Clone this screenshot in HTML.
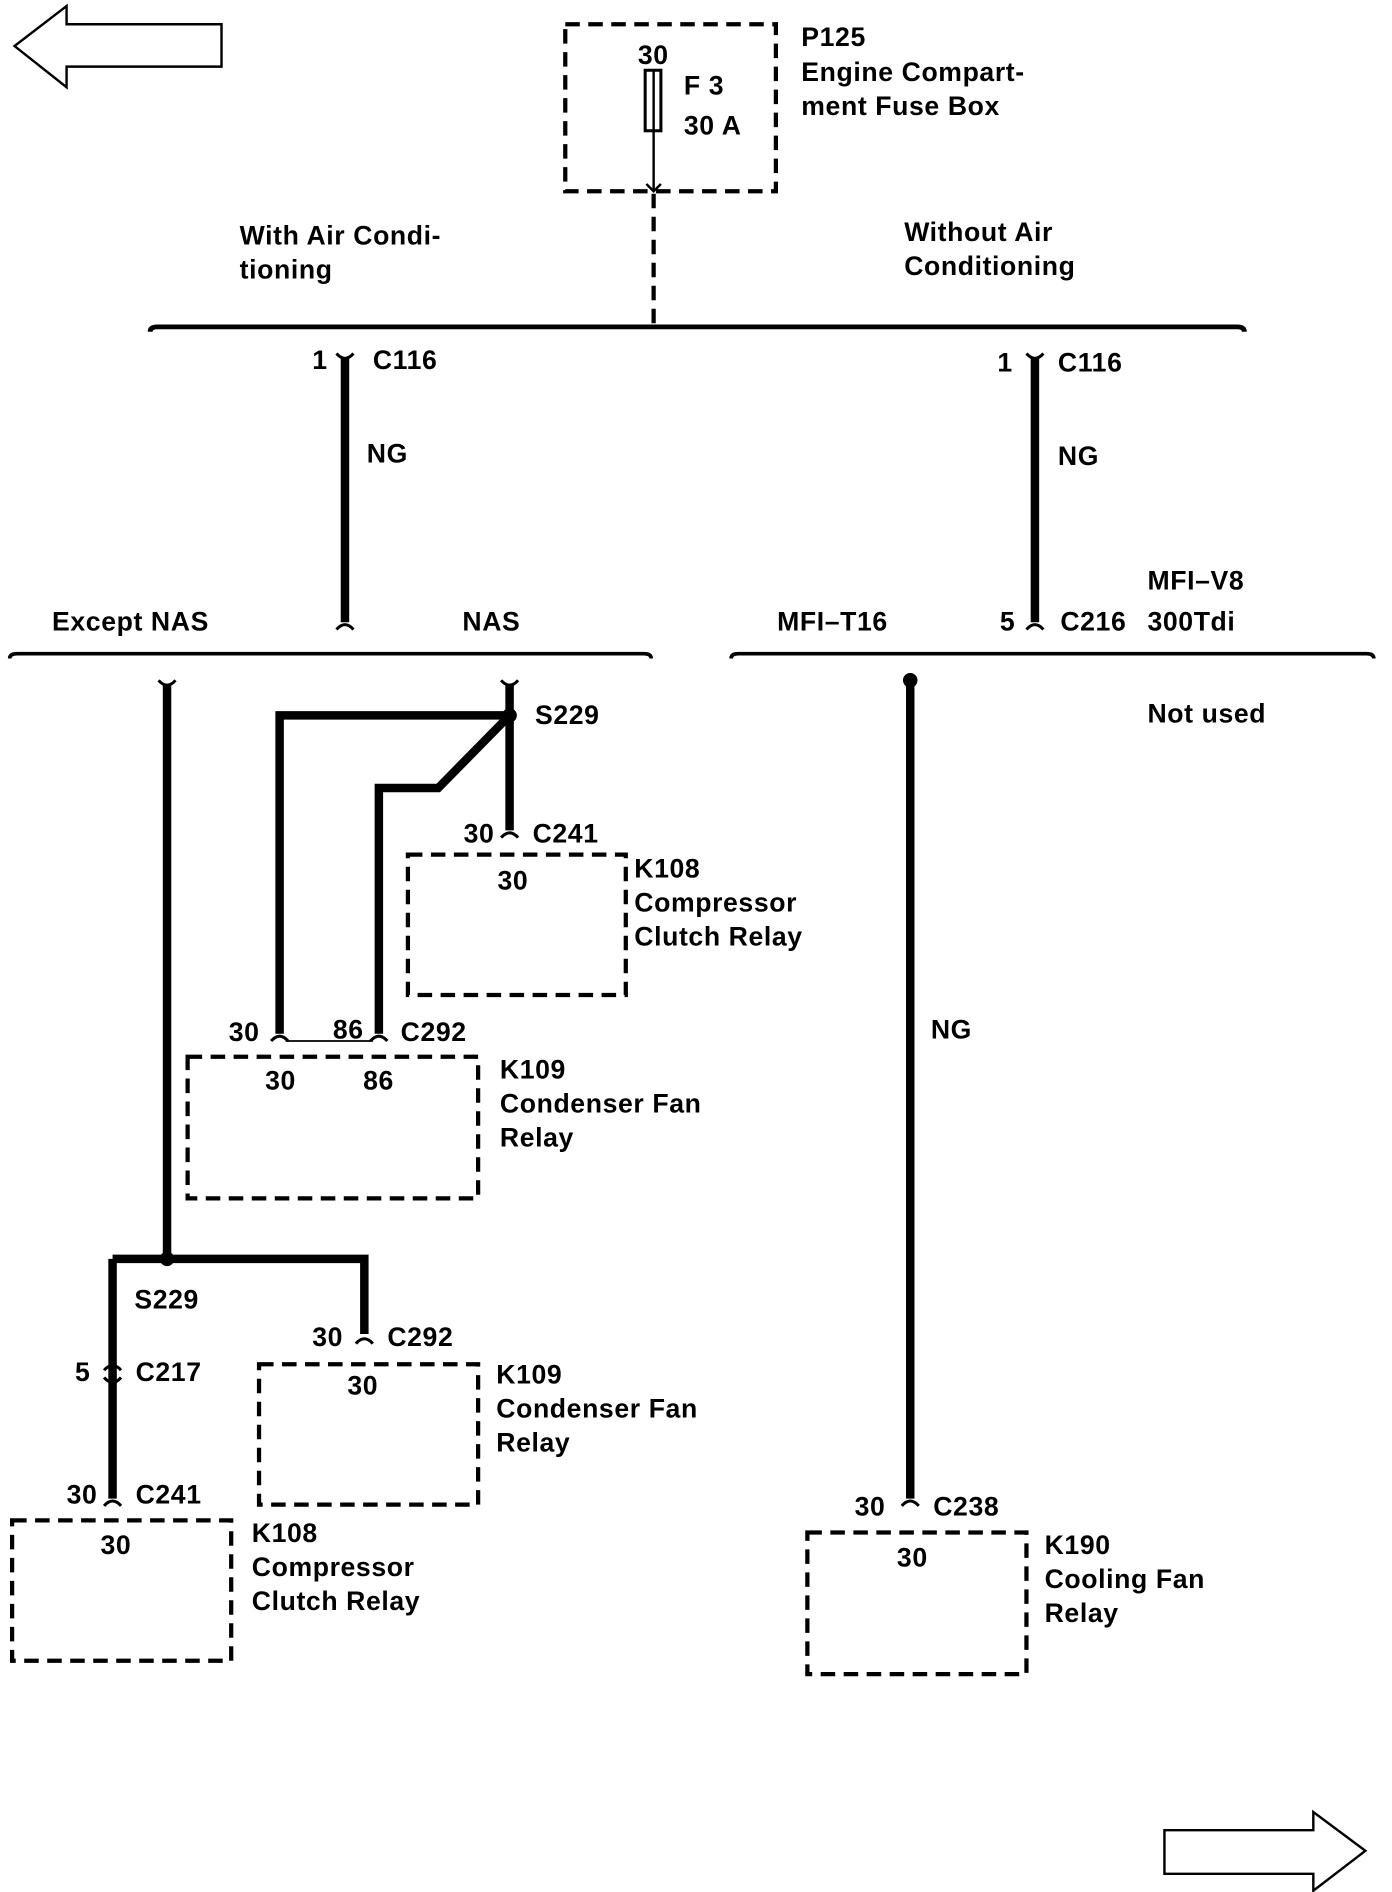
<!DOCTYPE html>
<html><head><meta charset="utf-8"><style>
html,body{margin:0;padding:0;background:#fff}
svg{display:block}
text{font-family:"Liberation Sans",sans-serif;font-weight:bold;font-size:22px;letter-spacing:0.5px;fill:#000}
</style></head><body>
<svg width="1392" height="1892" viewBox="0 0 1150 1563" xmlns="http://www.w3.org/2000/svg">
<g fill="none" stroke="#000">
<path d="M183,20 L55,20 L55,5 L12,38 L55,72 L55,55 L183,55 Z" stroke-width="2"/>
<path d="M962,1512 L1085,1512 L1085,1497 L1128,1529 L1085,1562 L1085,1548 L962,1548 Z" stroke-width="2"/>
<g stroke-width="3.5" stroke-dasharray="12,7">
<rect x="467" y="20" width="174" height="138"/>
<rect x="337" y="706" width="180" height="116"/>
<rect x="155" y="873" width="240" height="117"/>
<rect x="214" y="1127" width="181" height="116"/>
<rect x="10" y="1256" width="181" height="116"/>
<rect x="667" y="1266" width="181" height="117"/>
<path d="M540,160 L540,268"/>
</g>
<rect x="533" y="58" width="13" height="50" stroke-width="2.5"/>
<path d="M540,58 V158" stroke-width="2"/>
<path d="M534,152 L540,158 L546,152" stroke-width="2"/>
<path d="M124,274 Q124,270 130,270 L1022,270 Q1028,270 1028,274" stroke-width="4"/>
<path d="M8,544 Q8,540 14,540 L532,540 Q538,540 538,544" stroke-width="3"/>
<path d="M604,544 Q604,540 610,540 L1129,540 Q1135,540 1135,544" stroke-width="3"/>
<g stroke-width="7">
<path d="M285,296 V514"/>
<path d="M855,296 V514"/>
<path d="M138,566 V1040"/>
<path d="M421,566 V686"/>
<path d="M421,591 H231 V854"/>
<path d="M421,591 L362,651 H313 V854"/>
<path d="M93,1040 H301 V1102"/>
<path d="M93,1040 V1238"/>
<path d="M752,562 V1238"/>
</g>
<path d="M236,860 H308" stroke-width="1.5"/>
<g stroke-width="2.5">
<path d="M278,292 Q285,300 292,292"/>
<path d="M848,292 Q855,300 862,292"/>
<path d="M278,520 Q285,512 292,520"/>
<path d="M848,520 Q855,512 862,520"/>
<path d="M131,562 Q138,570 145,562"/>
<path d="M414,562 Q421,570 428,562"/>
<path d="M414,692 Q421,684 428,692"/>
<path d="M224,860 Q231,852 238,860"/>
<path d="M306,860 Q313,852 320,860"/>
<path d="M294,1110 Q301,1102 308,1110"/>
<path d="M86,1132 Q93,1124 100,1132"/>
<path d="M86,1138 Q93,1146 100,1138"/>
<path d="M86,1244 Q93,1236 100,1244"/>
<path d="M745,1244 Q752,1236 759,1244"/>
</g>
</g>
<g fill="#000">
<circle cx="421" cy="591" r="6"/>
<circle cx="138" cy="1040" r="6"/>
<circle cx="752" cy="562" r="6"/>
</g>
<text x="527" y="53">30</text>
<text x="565" y="78">F 3</text>
<text x="565" y="111">30 A</text>
<text x="662" y="38">P125</text>
<text x="662" y="67">Engine Compart-</text>
<text x="662" y="95">ment Fuse Box</text>
<text x="198" y="202">With Air Condi-</text>
<text x="198" y="230">tioning</text>
<text x="747" y="199">Without Air</text>
<text x="747" y="227">Conditioning</text>
<text x="258" y="305">1</text>
<text x="308" y="305">C116</text>
<text x="303" y="382">NG</text>
<text x="824" y="307">1</text>
<text x="874" y="307">C116</text>
<text x="874" y="384">NG</text>
<text x="43" y="521">Except NAS</text>
<text x="382" y="521">NAS</text>
<text x="642" y="521">MFI–T16</text>
<text x="826" y="521">5</text>
<text x="876" y="521">C216</text>
<text x="948" y="487">MFI–V8</text>
<text x="948" y="521">300Tdi</text>
<text x="948" y="597">Not used</text>
<text x="442" y="598">S229</text>
<text x="383" y="696">30</text>
<text x="440" y="696">C241</text>
<text x="411" y="735">30</text>
<text x="524" y="725">K108</text>
<text x="524" y="753">Compressor</text>
<text x="524" y="781">Clutch Relay</text>
<text x="189" y="860">30</text>
<text x="275" y="858">86</text>
<text x="331" y="860">C292</text>
<text x="219" y="900">30</text>
<text x="300" y="900">86</text>
<text x="413" y="891">K109</text>
<text x="413" y="919">Condenser Fan</text>
<text x="413" y="947">Relay</text>
<text x="769" y="858">NG</text>
<text x="111" y="1081">S229</text>
<text x="62" y="1141">5</text>
<text x="112" y="1141">C217</text>
<text x="258" y="1112">30</text>
<text x="320" y="1112">C292</text>
<text x="287" y="1152">30</text>
<text x="410" y="1143">K109</text>
<text x="410" y="1171">Condenser Fan</text>
<text x="410" y="1199">Relay</text>
<text x="55" y="1242">30</text>
<text x="112" y="1242">C241</text>
<text x="83" y="1284">30</text>
<text x="208" y="1274">K108</text>
<text x="208" y="1302">Compressor</text>
<text x="208" y="1330">Clutch Relay</text>
<text x="706" y="1252">30</text>
<text x="771" y="1252">C238</text>
<text x="741" y="1294">30</text>
<text x="863" y="1284">K190</text>
<text x="863" y="1312">Cooling Fan</text>
<text x="863" y="1340">Relay</text>
</svg>
</body></html>
